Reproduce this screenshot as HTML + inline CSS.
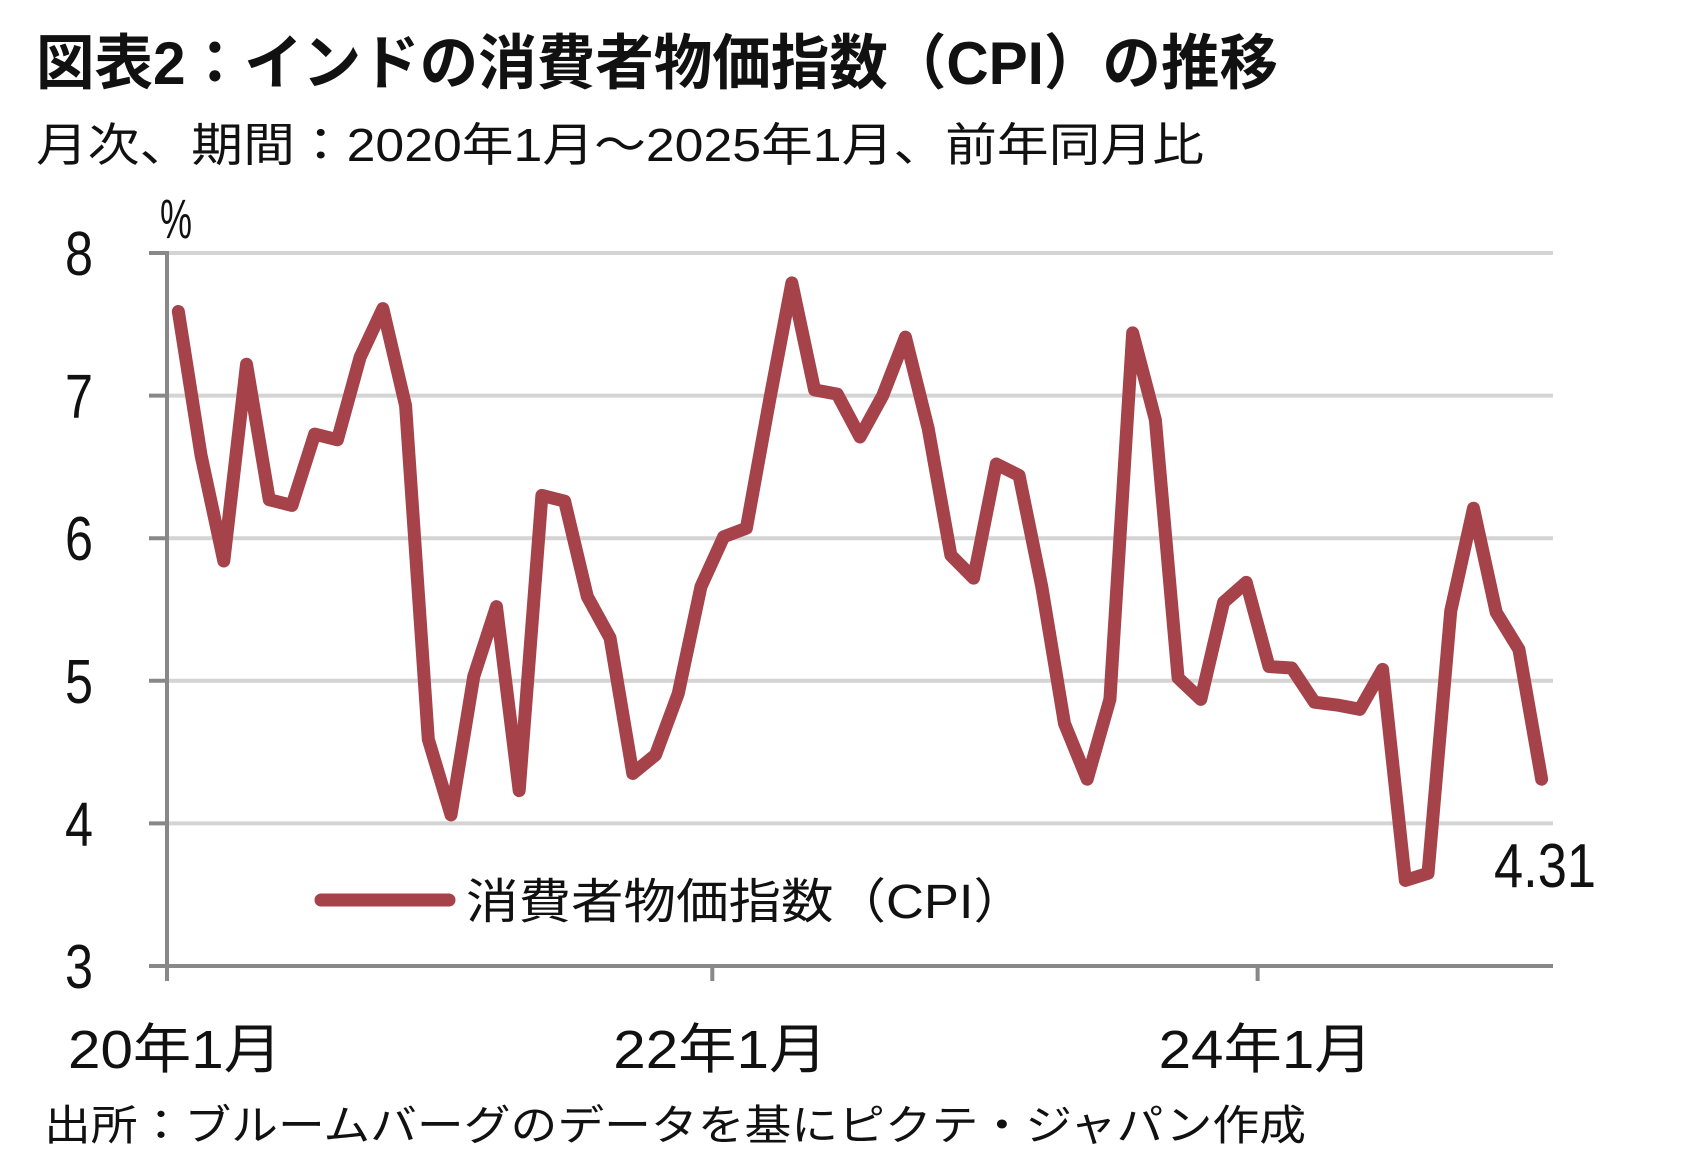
<!DOCTYPE html>
<html><head><meta charset="utf-8"><style>
body{margin:0;background:#fff}
svg{display:block}
text{font-family:"Liberation Sans","Noto Sans CJK JP",sans-serif;fill:#111}
</style></head><body>
<svg id="c" width="1697" height="1166" xmlns="http://www.w3.org/2000/svg">
<text x="36" y="84" font-size="60" font-weight="bold" textLength="1242" lengthAdjust="spacingAndGlyphs">図表2：インドの消費者物価指数（CPI）の推移</text>
<text x="36" y="161" font-size="46" textLength="1168" lengthAdjust="spacingAndGlyphs">月次、期間：2020年1月～2025年1月、前年同月比</text>
<text x="160" y="238" font-size="56" textLength="32" lengthAdjust="spacingAndGlyphs">%</text>
<g id="grid"></g><g id="axes"></g><g id="series"></g>
<line x1="321" y1="900" x2="449" y2="900" stroke="#a5424a" stroke-width="13" stroke-linecap="round"/>
<text x="466" y="918" font-size="48" textLength="560" lengthAdjust="spacingAndGlyphs">消費者物価指数（CPI）</text>
<text x="1494" y="887" font-size="62" textLength="102" lengthAdjust="spacingAndGlyphs">4.31</text>
<text x="44" y="1140" font-size="42" textLength="1262" lengthAdjust="spacingAndGlyphs">出所：ブルームバーグのデータを基にピクテ・ジャパン作成</text>
</svg>
<script>
const values=[7.59,6.58,5.84,7.22,6.27,6.23,6.73,6.69,7.27,7.61,6.93,4.59,
4.06,5.03,5.52,4.23,6.30,6.26,5.59,5.30,4.35,4.48,4.91,5.66,
6.01,6.07,6.95,7.79,7.04,7.01,6.71,7.00,7.41,6.77,5.88,5.72,
6.52,6.44,5.66,4.70,4.31,4.87,7.44,6.83,5.02,4.87,5.55,5.69,
5.10,5.09,4.85,4.83,4.80,5.08,3.60,3.65,5.49,6.21,5.48,5.22,4.31];
const yTicks=[3,4,5,6,7,8];
const xTickIdx=[0,24,48];
const xTickLabels=["20年1月","22年1月","24年1月"];
const NS="http://www.w3.org/2000/svg";
const L=167,R=1553,T=253,B=966,ymin=3,ymax=8;
const bw=(R-L)/values.length;
const y=v=>B-(v-ymin)/(ymax-ymin)*(B-T);
const x=i=>L+bw*(i+0.5);
const xb=i=>L+bw*i;
function mk(tag,attrs,parent){const e=document.createElementNS(NS,tag);for(const k in attrs)e.setAttribute(k,attrs[k]);document.getElementById(parent).appendChild(e);return e;}
yTicks.forEach(t=>{
  if(t>ymin){const g=mk('line',{x1:L,x2:R,y1:y(t),y2:y(t),stroke:'#d4d4d4','stroke-width':4},'grid');
  
  }
  const tk=mk('line',{x1:L-18,x2:L,y1:y(t),y2:y(t),stroke:'#888','stroke-width':4},'axes');
  
  
  const tx=mk('text',{x:93,y:y(t)+22,'font-size':62,'text-anchor':'end',textLength:28,lengthAdjust:'spacingAndGlyphs'},'axes');tx.textContent=t;
  
  
});
const ya=mk('line',{x1:L,x2:L,y1:T-2,y2:B+15,stroke:'#888','stroke-width':4},'axes');


const xa=mk('line',{x1:L,x2:R,y1:B,y2:B,stroke:'#888','stroke-width':4},'axes');


xTickIdx.forEach((idx,k)=>{
  const tk=mk('line',{x1:xb(idx),x2:xb(idx),y1:B,y2:B+15,stroke:'#888','stroke-width':4},'axes');
  
  
  const tx=mk('text',{x:xb(idx)+8,y:1068,'font-size':54,'text-anchor':'middle',textLength:214,lengthAdjust:'spacingAndGlyphs'},'axes');tx.textContent=xTickLabels[k];
  
  
});
const p=mk('polyline',{points:values.map((v,i)=>x(i)+','+y(v)).join(' '),fill:'none',stroke:'#a5424a','stroke-width':13,'stroke-linejoin':'round','stroke-linecap':'round'},'series');


</script>
</body></html>
